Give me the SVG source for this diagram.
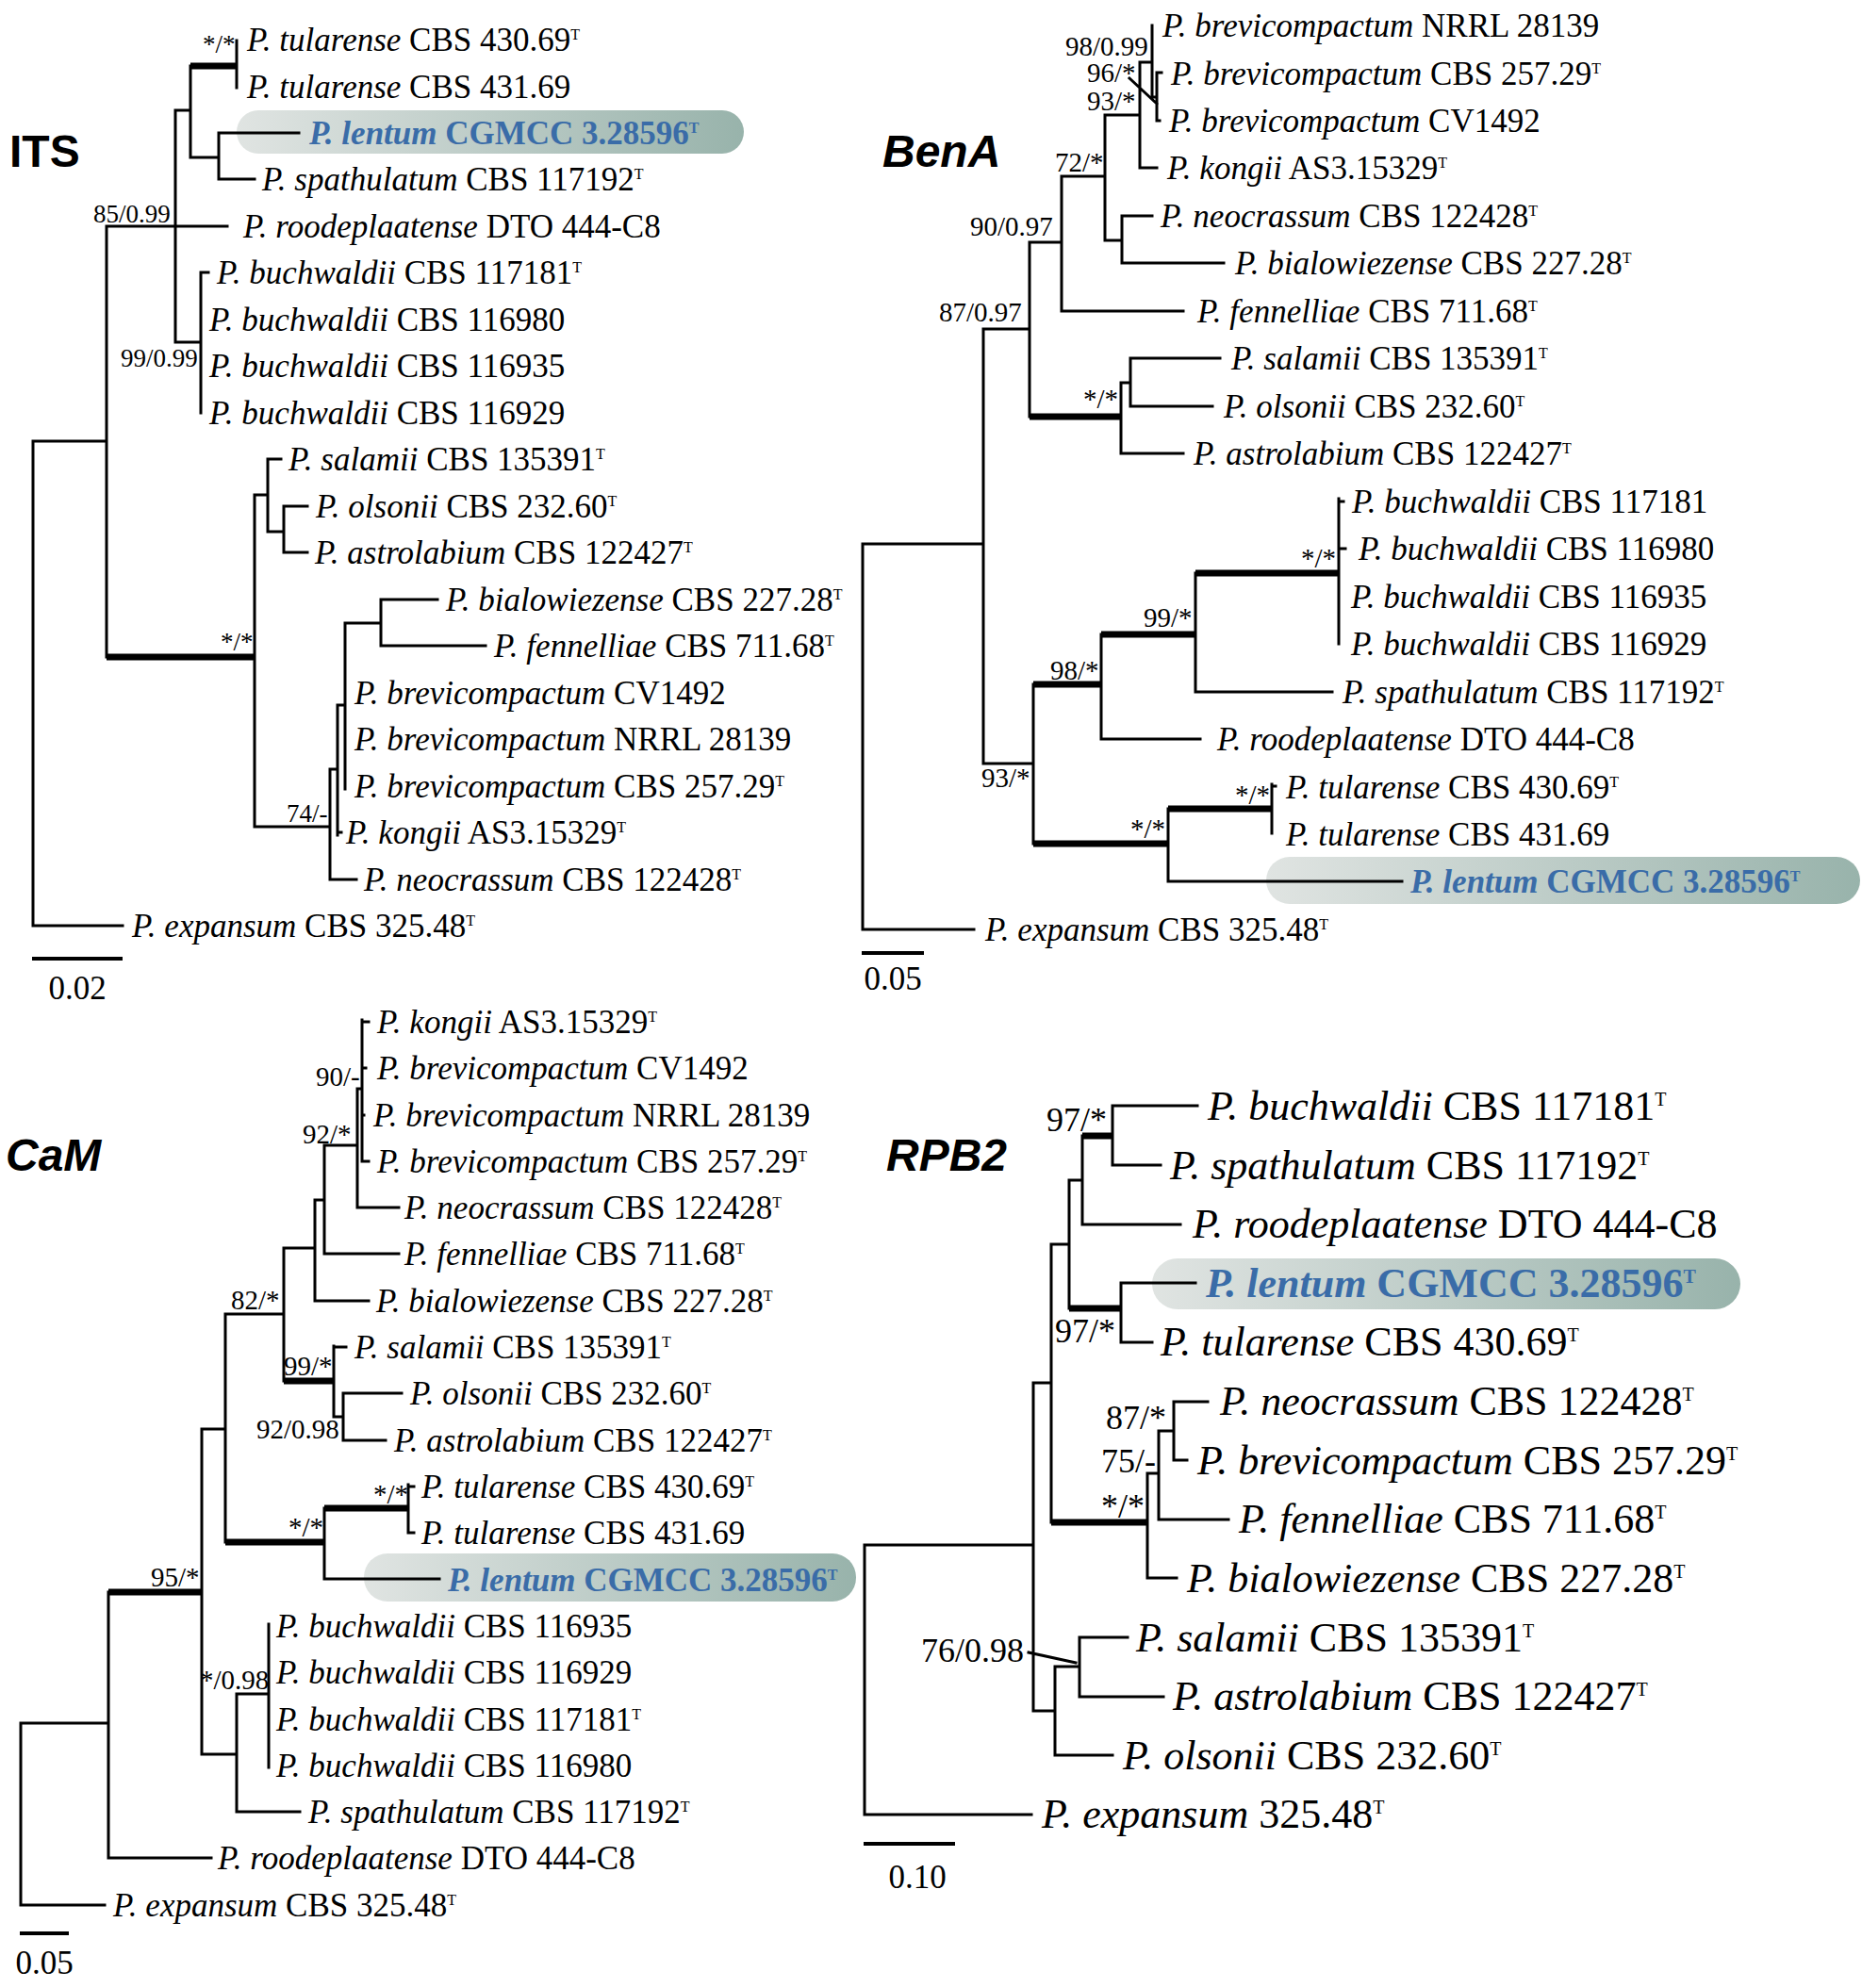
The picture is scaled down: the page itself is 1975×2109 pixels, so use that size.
<svg xmlns="http://www.w3.org/2000/svg" width="1975" height="2109" viewBox="0 0 1975 2109">
<defs>
<linearGradient id="hl" x1="0" y1="0" x2="1" y2="0">
<stop offset="0" stop-color="#e0e4e2"/>
<stop offset="1" stop-color="#98b3ab"/>
</linearGradient>
<style>
.l{stroke:#000;stroke-width:3;fill:none;stroke-linecap:square}
.k{stroke:#000;stroke-width:7;fill:none;stroke-linecap:butt}
.n{font-family:"Liberation Serif","Times New Roman",serif;font-size:35px;fill:#000}
.n4{font-size:44px}
.s{font-family:"Liberation Serif","Times New Roman",serif;font-size:29px;fill:#000}
.s1{font-size:27px}
.s3{font-size:36px}
.i{font-style:italic}
.sup{font-size:16px}
.sup4{font-size:20px}
.lt{fill:#3a6ca8;font-weight:bold}
.ttl{font-family:"Liberation Sans",Arial,sans-serif;font-weight:bold;font-size:48px;fill:#000}
.it{font-style:italic}
.box{fill:url(#hl)}
</style>
</defs>
<rect width="1975" height="2109" fill="#fff"/>

<g id="highlights">
<rect class="box" x="251" y="117" width="538" height="46" rx="23"/>
<rect class="box" x="1343" y="909" width="630" height="50" rx="25"/>
<rect class="box" x="386" y="1648" width="522" height="51" rx="25"/>
<rect class="box" x="1222" y="1335" width="624" height="54" rx="27"/>
</g>

<g id="connectors">
<!-- ITS -->
<path class="l" d="M35 468 V982 H130 M35 468 H113 M113 240 V697 M113 240 H186 M186 117 V363 M186 240 H241 M186 117 H202 M202 70 V167 M251 43 V93 M202 167 H232 M232 141 V190 M232 141 H317 M232 190 H270 M186 363 H213 M213 289 V438 M213 289 H221 M270 525 V877 M270 525 H284 M284 487 V564 M284 487 H298 M284 564 H301 M301 537 V586 M301 537 H326 M301 586 H326 M270 877 H350 M350 816 V933 H378 M350 816 H358 M358 748 V886 M358 883 H362 M358 748 H366 M366 661 V837 M366 661 H404 M404 636 V685 M404 636 H464 M404 685 H515"/>
<path class="k" d="M202 70 H251 M113 697 H270"/>
<!-- BenA -->
<path class="l" d="M915 577 V986 H1033 M915 577 H1043 M1043 349 V810 M1043 349 H1092 M1092 257 V442 M1092 257 H1126 M1126 187 V330 H1255 M1126 187 H1172 M1172 122 V255 M1172 122 H1209 M1209 66 V178 H1227 M1209 66 H1222 M1222 27 V103 H1227 M1227 77 V128 H1230 M1227 77 H1232 M1198 83 L1227 110 M1172 255 H1190 M1190 229 V279 H1298 M1190 229 H1222 M1189 406 V481 H1255 M1189 406 H1199 M1199 380 V431 H1286 M1199 380 H1294 M1043 810 H1096 M1096 726 V895 M1168 673 V784 H1273 M1268 608 V734 H1413 M1420 529 V683 M1420 532 H1425 M1420 582 H1427 M1239 858 V935 H1487 M1349 832 V884 M1349 834 H1353"/>
<path class="k" d="M1092 442 H1189 M1096 726 H1168 M1168 673 H1268 M1268 608 H1420 M1096 895 H1239 M1239 858 H1349"/>
<!-- CaM -->
<path class="l" d="M22 1828 V2021 H111 M22 1828 H115 M115 1689 V1971 H224 M214 1516 V1861 M214 1516 H239 M239 1394 V1636 M239 1394 H301 M301 1324 V1465 M301 1324 H334 M334 1273 V1380 H391 M334 1273 H344 M344 1215 V1330 H423 M344 1215 H379 M379 1155 V1281 H423 M379 1155 H384 M384 1082 V1232 H391 M384 1084 H391 M384 1133 H388 M384 1183 H386 M354 1428 V1503 M354 1429 H367 M354 1503 H364 M364 1478 V1528 H409 M364 1478 H426 M344 1600 V1675 H466 M433 1575 V1626 H439 M433 1577 H439 M214 1861 H251 M251 1797 V1922 H318 M251 1797 H285 M285 1723 V1875"/>
<path class="k" d="M115 1689 H214 M301 1465 H354 M239 1636 H344 M344 1600 H433"/>
<!-- RPB2 -->
<path class="l" d="M917 1639 V1925 H1094 M917 1639 H1096 M1096 1467 V1815 M1096 1467 H1115 M1115 1320 V1615 M1115 1320 H1134 M1134 1252 V1388 M1134 1252 H1148 M1148 1205 V1299 H1252 M1180 1173 V1236 H1231 M1180 1173 H1270 M1189 1361 V1424 H1222 M1189 1361 H1268 M1217 1563 V1674 H1248 M1217 1563 H1229 M1229 1518 V1612 H1303 M1229 1518 H1245 M1245 1487 V1549 H1259 M1245 1487 H1281 M1096 1815 H1119 M1119 1768 V1862 H1180 M1119 1768 H1145 M1145 1737 V1800 H1234 M1145 1737 H1196 M1091 1753 L1141 1764"/>
<path class="k" d="M1148 1205 H1180 M1134 1388 H1189 M1115 1615 H1217"/>
</g>

<g id="titles">
<text class="ttl" x="10" y="177">ITS</text>
<text class="ttl it" x="936" y="177">BenA</text>
<text class="ttl it" x="6" y="1242">CaM</text>
<text class="ttl it" x="940" y="1242">RPB2</text>
</g>

<g id="scalebars">
<path d="M34 1017 H130 M914 1011 H980 M21 2051 H73 M916 1956 H1013" stroke="#000" stroke-width="4" fill="none"/>
<text class="n" x="82" y="1060" text-anchor="middle" font-size="34">0.02</text>
<text class="n" x="947" y="1050" text-anchor="middle" font-size="34">0.05</text>
<text class="n" x="47" y="2094" text-anchor="middle" font-size="34">0.05</text>
<text class="n" x="973" y="2003" text-anchor="middle" font-size="43">0.10</text>
</g>

<g id="support">
<text class="s s1" x="215" y="56">*/*</text>
<text class="s s1" x="99" y="236">85/0.99</text>
<text class="s s1" x="128" y="389">99/0.99</text>
<text class="s s1" x="234" y="690">*/*</text>
<text class="s s1" x="304" y="872">74/-</text>

<text class="s" x="1130" y="59">98/0.99</text>
<text class="s" x="1153" y="87">96/*</text>
<text class="s" x="1153" y="117">93/*</text>
<text class="s" x="1119" y="182">72/*</text>
<text class="s" x="1029" y="250">90/0.97</text>
<text class="s" x="996" y="341">87/0.97</text>
<text class="s" x="1149" y="433">*/*</text>
<text class="s" x="1041" y="835">93/*</text>
<text class="s" x="1114" y="721">98/*</text>
<text class="s" x="1213" y="665">99/*</text>
<text class="s" x="1380" y="602">*/*</text>
<text class="s" x="1310" y="853">*/*</text>
<text class="s" x="1199" y="889">*/*</text>

<text class="s" x="335" y="1152">90/-</text>
<text class="s" x="321" y="1213">92/*</text>
<text class="s" x="245" y="1389">82/*</text>
<text class="s" x="301" y="1459">99/*</text>
<text class="s" x="272" y="1526">92/0.98</text>
<text class="s" x="396" y="1595">*/*</text>
<text class="s" x="306" y="1630">*/*</text>
<text class="s" x="160" y="1683">95/*</text>
<text class="s" x="212" y="1792">*/0.98</text>

<text class="s s3" x="1110" y="1200">97/*</text>
<text class="s s3" x="1119" y="1424">97/*</text>
<text class="s s3" x="1173" y="1516">87/*</text>
<text class="s s3" x="1168" y="1562">75/-</text>
<text class="s s3" x="1168" y="1610">*/*</text>
<text class="s s3" x="977" y="1763">76/0.98</text>
</g>

<!-- ITS taxa -->
<g id="its-tul430"><text class="n" x="262" y="54"><tspan class="i">P. tularense</tspan> CBS 430.69<tspan class="sup" dy="-12">T</tspan></text></g>
<g id="its-tul431"><text class="n" x="262" y="104"><tspan class="i">P. tularense</tspan> CBS 431.69</text></g>
<g id="its-lentum"><text class="n lt" x="328" y="153"><tspan class="i">P. lentum</tspan> CGMCC 3.28596<tspan class="sup" dy="-12">T</tspan></text></g>
<g id="its-spath"><text class="n" x="278" y="202"><tspan class="i">P. spathulatum</tspan> CBS 117192<tspan class="sup" dy="-12">T</tspan></text></g>
<g id="its-rood"><text class="n" x="258" y="252"><tspan class="i">P. roodeplaatense</tspan> DTO 444-C8</text></g>
<g id="its-buch117181"><text class="n" x="230" y="301"><tspan class="i">P. buchwaldii</tspan> CBS 117181<tspan class="sup" dy="-12">T</tspan></text></g>
<g id="its-buch116980"><text class="n" x="222" y="351"><tspan class="i">P. buchwaldii</tspan> CBS 116980</text></g>
<g id="its-buch116935"><text class="n" x="222" y="400"><tspan class="i">P. buchwaldii</tspan> CBS 116935</text></g>
<g id="its-buch116929"><text class="n" x="222" y="450"><tspan class="i">P. buchwaldii</tspan> CBS 116929</text></g>
<g id="its-salamii"><text class="n" x="306" y="499"><tspan class="i">P. salamii</tspan> CBS 135391<tspan class="sup" dy="-12">T</tspan></text></g>
<g id="its-olsonii"><text class="n" x="335" y="549"><tspan class="i">P. olsonii</tspan> CBS 232.60<tspan class="sup" dy="-12">T</tspan></text></g>
<g id="its-astro"><text class="n" x="334" y="598"><tspan class="i">P. astrolabium</tspan> CBS 122427<tspan class="sup" dy="-12">T</tspan></text></g>
<g id="its-bial"><text class="n" x="473" y="648"><tspan class="i">P. bialowiezense</tspan> CBS 227.28<tspan class="sup" dy="-12">T</tspan></text></g>
<g id="its-fenn"><text class="n" x="524" y="697"><tspan class="i">P. fennelliae</tspan> CBS 711.68<tspan class="sup" dy="-12">T</tspan></text></g>
<g id="its-brevCV"><text class="n" x="376" y="747"><tspan class="i">P. brevicompactum</tspan> CV1492</text></g>
<g id="its-brevNRRL"><text class="n" x="376" y="796"><tspan class="i">P. brevicompactum</tspan> NRRL 28139</text></g>
<g id="its-brevCBS"><text class="n" x="376" y="846"><tspan class="i">P. brevicompactum</tspan> CBS 257.29<tspan class="sup" dy="-12">T</tspan></text></g>
<g id="its-kongii"><text class="n" x="367" y="895"><tspan class="i">P. kongii</tspan> AS3.15329<tspan class="sup" dy="-12">T</tspan></text></g>
<g id="its-neo"><text class="n" x="386" y="945"><tspan class="i">P. neocrassum</tspan> CBS 122428<tspan class="sup" dy="-12">T</tspan></text></g>
<g id="its-exp"><text class="n" x="140" y="994"><tspan class="i">P. expansum</tspan> CBS 325.48<tspan class="sup" dy="-12">T</tspan></text></g>

<!-- BenA taxa -->
<g id="bena-brevNRRL"><text class="n" x="1233" y="39"><tspan class="i">P. brevicompactum</tspan> NRRL 28139</text></g>
<g id="bena-brevCBS"><text class="n" x="1242" y="90"><tspan class="i">P. brevicompactum</tspan> CBS 257.29<tspan class="sup" dy="-12">T</tspan></text></g>
<g id="bena-brevCV"><text class="n" x="1240" y="140"><tspan class="i">P. brevicompactum</tspan> CV1492</text></g>
<g id="bena-kongii"><text class="n" x="1238" y="190"><tspan class="i">P. kongii</tspan> AS3.15329<tspan class="sup" dy="-12">T</tspan></text></g>
<g id="bena-neo"><text class="n" x="1231" y="241"><tspan class="i">P. neocrassum</tspan> CBS 122428<tspan class="sup" dy="-12">T</tspan></text></g>
<g id="bena-bial"><text class="n" x="1310" y="291"><tspan class="i">P. bialowiezense</tspan> CBS 227.28<tspan class="sup" dy="-12">T</tspan></text></g>
<g id="bena-fenn"><text class="n" x="1270" y="342"><tspan class="i">P. fennelliae</tspan> CBS 711.68<tspan class="sup" dy="-12">T</tspan></text></g>
<g id="bena-salamii"><text class="n" x="1306" y="392"><tspan class="i">P. salamii</tspan> CBS 135391<tspan class="sup" dy="-12">T</tspan></text></g>
<g id="bena-olsonii"><text class="n" x="1298" y="443"><tspan class="i">P. olsonii</tspan> CBS 232.60<tspan class="sup" dy="-12">T</tspan></text></g>
<g id="bena-astro"><text class="n" x="1266" y="493"><tspan class="i">P. astrolabium</tspan> CBS 122427<tspan class="sup" dy="-12">T</tspan></text></g>
<g id="bena-buch117181"><text class="n" x="1434" y="544"><tspan class="i">P. buchwaldii</tspan> CBS 117181</text></g>
<g id="bena-buch116980"><text class="n" x="1441" y="594"><tspan class="i">P. buchwaldii</tspan> CBS 116980</text></g>
<g id="bena-buch116935"><text class="n" x="1433" y="645"><tspan class="i">P. buchwaldii</tspan> CBS 116935</text></g>
<g id="bena-buch116929"><text class="n" x="1433" y="695"><tspan class="i">P. buchwaldii</tspan> CBS 116929</text></g>
<g id="bena-spath"><text class="n" x="1424" y="746"><tspan class="i">P. spathulatum</tspan> CBS 117192<tspan class="sup" dy="-12">T</tspan></text></g>
<g id="bena-rood"><text class="n" x="1291" y="796"><tspan class="i">P. roodeplaatense</tspan> DTO 444-C8</text></g>
<g id="bena-tul430"><text class="n" x="1364" y="847"><tspan class="i">P. tularense</tspan> CBS 430.69<tspan class="sup" dy="-12">T</tspan></text></g>
<g id="bena-tul431"><text class="n" x="1364" y="897"><tspan class="i">P. tularense</tspan> CBS 431.69</text></g>
<g id="bena-lentum"><text class="n lt" x="1496" y="947"><tspan class="i">P. lentum</tspan> CGMCC 3.28596<tspan class="sup" dy="-12">T</tspan></text></g>
<g id="bena-exp"><text class="n" x="1045" y="998"><tspan class="i">P. expansum</tspan> CBS 325.48<tspan class="sup" dy="-12">T</tspan></text></g>

<!-- CaM taxa -->
<g id="cam-kongii"><text class="n" x="400" y="1096"><tspan class="i">P. kongii</tspan> AS3.15329<tspan class="sup" dy="-12">T</tspan></text></g>
<g id="cam-brevCV"><text class="n" x="400" y="1145"><tspan class="i">P. brevicompactum</tspan> CV1492</text></g>
<g id="cam-brevNRRL"><text class="n" x="396" y="1195"><tspan class="i">P. brevicompactum</tspan> NRRL 28139</text></g>
<g id="cam-brevCBS"><text class="n" x="400" y="1244"><tspan class="i">P. brevicompactum</tspan> CBS 257.29<tspan class="sup" dy="-12">T</tspan></text></g>
<g id="cam-neo"><text class="n" x="429" y="1293"><tspan class="i">P. neocrassum</tspan> CBS 122428<tspan class="sup" dy="-12">T</tspan></text></g>
<g id="cam-fenn"><text class="n" x="429" y="1342"><tspan class="i">P. fennelliae</tspan> CBS 711.68<tspan class="sup" dy="-12">T</tspan></text></g>
<g id="cam-bial"><text class="n" x="399" y="1392"><tspan class="i">P. bialowiezense</tspan> CBS 227.28<tspan class="sup" dy="-12">T</tspan></text></g>
<g id="cam-salamii"><text class="n" x="376" y="1441"><tspan class="i">P. salamii</tspan> CBS 135391<tspan class="sup" dy="-12">T</tspan></text></g>
<g id="cam-olsonii"><text class="n" x="435" y="1490"><tspan class="i">P. olsonii</tspan> CBS 232.60<tspan class="sup" dy="-12">T</tspan></text></g>
<g id="cam-astro"><text class="n" x="418" y="1540"><tspan class="i">P. astrolabium</tspan> CBS 122427<tspan class="sup" dy="-12">T</tspan></text></g>
<g id="cam-tul430"><text class="n" x="447" y="1589"><tspan class="i">P. tularense</tspan> CBS 430.69<tspan class="sup" dy="-12">T</tspan></text></g>
<g id="cam-tul431"><text class="n" x="447" y="1638"><tspan class="i">P. tularense</tspan> CBS 431.69</text></g>
<g id="cam-lentum"><text class="n lt" x="475" y="1688"><tspan class="i">P. lentum</tspan> CGMCC 3.28596<tspan class="sup" dy="-12">T</tspan></text></g>
<g id="cam-buch116935"><text class="n" x="293" y="1737"><tspan class="i">P. buchwaldii</tspan> CBS 116935</text></g>
<g id="cam-buch116929"><text class="n" x="293" y="1786"><tspan class="i">P. buchwaldii</tspan> CBS 116929</text></g>
<g id="cam-buch117181"><text class="n" x="293" y="1836"><tspan class="i">P. buchwaldii</tspan> CBS 117181<tspan class="sup" dy="-12">T</tspan></text></g>
<g id="cam-buch116980"><text class="n" x="293" y="1885"><tspan class="i">P. buchwaldii</tspan> CBS 116980</text></g>
<g id="cam-spath"><text class="n" x="327" y="1934"><tspan class="i">P. spathulatum</tspan> CBS 117192<tspan class="sup" dy="-12">T</tspan></text></g>
<g id="cam-rood"><text class="n" x="231" y="1983"><tspan class="i">P. roodeplaatense</tspan> DTO 444-C8</text></g>
<g id="cam-exp"><text class="n" x="120" y="2033"><tspan class="i">P. expansum</tspan> CBS 325.48<tspan class="sup" dy="-12">T</tspan></text></g>

<!-- RPB2 taxa -->
<g id="rpb2-buch"><text class="n n4" x="1281" y="1188"><tspan class="i">P. buchwaldii</tspan> CBS 117181<tspan class="sup4" dy="-15">T</tspan></text></g>
<g id="rpb2-spath"><text class="n n4" x="1241" y="1251"><tspan class="i">P. spathulatum</tspan> CBS 117192<tspan class="sup4" dy="-15">T</tspan></text></g>
<g id="rpb2-rood"><text class="n n4" x="1265" y="1313"><tspan class="i">P. roodeplaatense</tspan> DTO 444-C8</text></g>
<g id="rpb2-lentum"><text class="n n4 lt" x="1279" y="1376"><tspan class="i">P. lentum</tspan> CGMCC 3.28596<tspan class="sup4" dy="-15">T</tspan></text></g>
<g id="rpb2-tul"><text class="n n4" x="1231" y="1438"><tspan class="i">P. tularense</tspan> CBS 430.69<tspan class="sup4" dy="-15">T</tspan></text></g>
<g id="rpb2-neo"><text class="n n4" x="1294" y="1501"><tspan class="i">P. neocrassum</tspan> CBS 122428<tspan class="sup4" dy="-15">T</tspan></text></g>
<g id="rpb2-brev"><text class="n n4" x="1270" y="1564"><tspan class="i">P. brevicompactum</tspan> CBS 257.29<tspan class="sup4" dy="-15">T</tspan></text></g>
<g id="rpb2-fenn"><text class="n n4" x="1314" y="1626"><tspan class="i">P. fennelliae</tspan> CBS 711.68<tspan class="sup4" dy="-15">T</tspan></text></g>
<g id="rpb2-bial"><text class="n n4" x="1259" y="1689"><tspan class="i">P. bialowiezense</tspan> CBS 227.28<tspan class="sup4" dy="-15">T</tspan></text></g>
<g id="rpb2-salamii"><text class="n n4" x="1205" y="1752"><tspan class="i">P. salamii</tspan> CBS 135391<tspan class="sup4" dy="-15">T</tspan></text></g>
<g id="rpb2-astro"><text class="n n4" x="1244" y="1814"><tspan class="i">P. astrolabium</tspan> CBS 122427<tspan class="sup4" dy="-15">T</tspan></text></g>
<g id="rpb2-olsonii"><text class="n n4" x="1191" y="1877"><tspan class="i">P. olsonii</tspan> CBS 232.60<tspan class="sup4" dy="-15">T</tspan></text></g>
<g id="rpb2-exp"><text class="n n4" x="1105" y="1939"><tspan class="i">P. expansum</tspan> 325.48<tspan class="sup4" dy="-15">T</tspan></text></g>
</svg>
